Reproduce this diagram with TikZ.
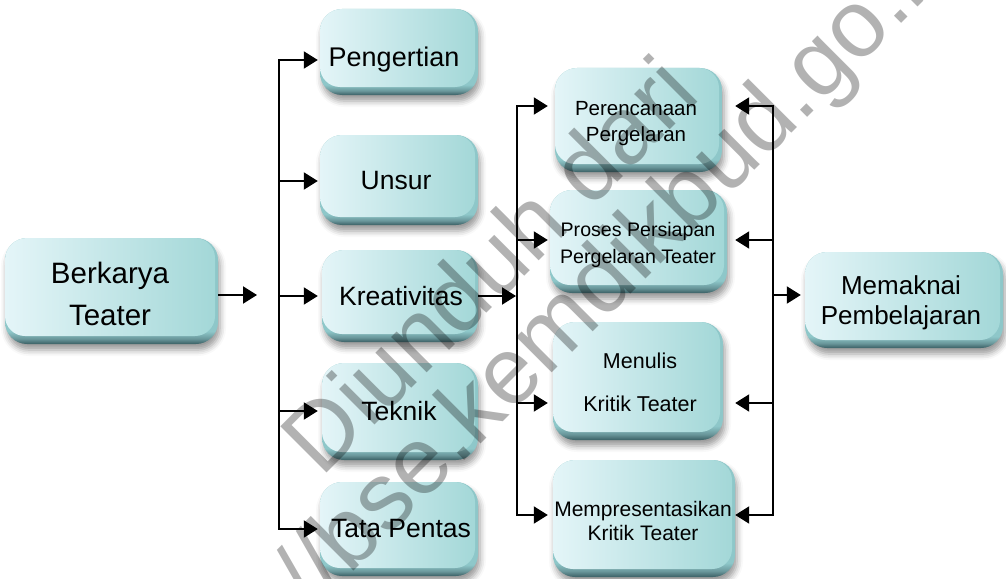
\documentclass[tikz,border=0pt]{standalone}
\usepackage{fontspec}
\setmainfont{Liberation Sans}
\usetikzlibrary{arrows.meta,shadows.blur}

\definecolor{faceL}{HTML}{E4F5F8}
\definecolor{faceR}{HTML}{A2D7D7}
\definecolor{rimT}{HTML}{8EC7C9}
\definecolor{rimM}{HTML}{6A979B}
\definecolor{rimB}{HTML}{3A5F64}

% base layer: dark only along the lower rim
\pgfdeclareverticalshading{rimshade}{100bp}{color(0bp)=(rimB); color(25bp)=(rimB);
  color(27.5bp)=(rimM); color(31bp)=(rimT); color(100bp)=(rimT)}

\newcommand\fsz[2]{\fontsize{#1}{#2}\selectfont}

\tikzset{
  box/.style={rectangle, rounded corners=22pt, inner sep=0pt, draw=none,
    shading=rimshade,
    blur shadow={shadow xshift=2pt, shadow yshift=-6pt,
                 shadow blur radius=6pt, shadow opacity=40},
    path picture={
      \shade[left color=faceL, right color=faceR, rounded corners=20pt]
        (path picture bounding box.north west) rectangle
        ([xshift=-3pt,yshift=8pt]path picture bounding box.south east);
    }},
  label/.style={inner sep=0pt, align=center, text=black},
  link/.style={line width=2pt, line join=miter, -{Triangle[length=14pt,width=17pt]}},
  fork/.style={line width=2pt, line join=miter,
    {Triangle[length=14pt,width=17pt]}-{Triangle[length=14pt,width=17pt]}},
  wmark/.style={inner sep=0pt, anchor=base, rotate=45, text=black,
    text opacity=0.3, font=\fsz{95}{95}},
}

\begin{document}
\begin{tikzpicture}[x=1pt,y=-1pt]
\useasboundingbox (0,0) rectangle (1006,578);

% boxes
\node[box, minimum width=213pt, minimum height=106pt] (bt)    at (111.5,291) {};
\node[box, minimum width=158pt, minimum height=86pt]  (peng)  at (399,52) {};
\node[box, minimum width=158pt, minimum height=90pt]  (unsur) at (399,180) {};
\node[box, minimum width=156pt, minimum height=92pt]  (kreat) at (400,296) {};
\node[box, minimum width=156pt, minimum height=97pt]  (tek)   at (400,411.5) {};
\node[box, minimum width=158pt, minimum height=94pt]  (tata)  at (399,529) {};
\node[box, minimum width=167pt, minimum height=104pt] (pren)  at (638.5,120) {};
\node[box, minimum width=177pt, minimum height=103pt] (pros)  at (638.5,241.5) {};
\node[box, minimum width=170pt, minimum height=118pt] (menul) at (638,381) {};
\node[box, minimum width=182pt, minimum height=117pt] (mpres) at (644,518.5) {};
\node[box, minimum width=198pt, minimum height=96pt]  (mem)   at (904,300) {};

% box texts
\node[label, font=\fsz{29.5}{42}] (bt-t)    at (110,294) {Berkarya\\Teater};
\node[label, font=\fsz{27}{30}]   (peng-t)  at (394,60)  {Pengertian};
\node[label, font=\fsz{26.5}{30}] (unsur-t) at (396,181) {Unsur};
\node[label, font=\fsz{26.5}{30}] (kreat-t) at (401,296) {Kreativitas};
\node[label, font=\fsz{26.5}{30}] (tek-t)   at (399,411) {Teknik};
\node[label, font=\fsz{26.5}{30}] (tata-t)  at (401,529) {Tata Pentas};
\node[label, font=\fsz{20.5}{26}] (pren-t)  at (636,124) {Perencanaan\\Pergelaran};
\node[label, font=\fsz{19.6}{27}] (pros-t)  at (638,245) {Proses Persiapan\\Pergelaran Teater};
\node[label, font=\fsz{21.5}{43}] (menul-t) at (640,382) {Menulis\\Kritik Teater};
\node[label, font=\fsz{21}{24}]   (mpres-t) at (643,521) {Mempresentasikan\\Kritik Teater};
\node[label, font=\fsz{26}{30}]   (mem-t)   at (901,303) {Memaknai\\Pembelajaran};

% junctions and rows
\coordinate (jL) at (279,295);
\coordinate (btTip) at (257,295);
\coordinate (jM) at (516,296);
\coordinate (jR) at (773,295);
\coordinate (row1) at (0,106);
\coordinate (row2) at (0,240);
\coordinate (row3) at (0,403);
\coordinate (row4) at (0,515);

% first split
\draw[link] (bt.east |- btTip) -- (btTip);
\draw[fork] ([xshift=-2pt]peng.west |- peng-t) -| (jL |- tata-t) -- ([xshift=-2pt]tata.west |- tata-t);
\draw[link] (jL |- unsur-t) -- ([xshift=-2pt]unsur.west |- unsur-t);
\draw[link] (jL |- kreat-t) -- ([xshift=-4pt]kreat.west |- kreat-t);
\draw[link] (jL |- tek-t) -- ([xshift=-4pt]tek.west |- tek-t);

% second split
\draw[link] (kreat.east |- kreat-t) -- (jM);
\draw[fork] ([xshift=-7pt]pren.west |- row1) -| ([xshift=1pt]jM |- row4) -- ([xshift=-5pt]mpres.west |- row4);
\draw[link] ([xshift=1pt]jM |- row2) -- ([xshift=-2pt]pros.west |- row2);
\draw[link] ([xshift=1pt]jM |- row3) -- ([xshift=-5pt]menul.west |- row3);

% gathering bracket
\draw[fork] ([xshift=13pt]pren.east |- row1) -| (jR |- row4) -- (mpres.east |- row4);
\draw[link] (jR |- row2) -- ([xshift=8pt]pros.east |- row2);
\draw[link] (jR |- row3) -- ([xshift=12pt]menul.east |- row3);
\draw[link] (jR) -- ([xshift=-4pt]mem.west |- jR);

% watermark
\node[wmark] (wm1) at (512,288) {Diunduh dari};
\node[wmark] (wm2) at (574,351) {http://bse.kemdikbud.go.id};
\end{tikzpicture}
\end{document}
